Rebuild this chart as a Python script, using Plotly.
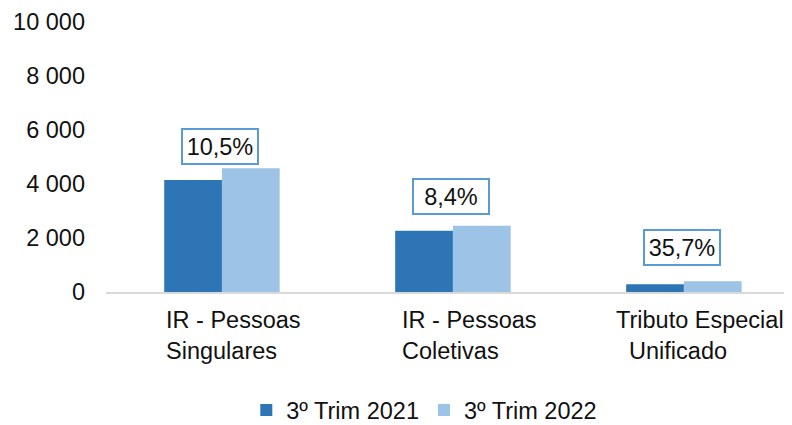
import plotly.graph_objects as go

categories = ["IR - Pessoas Singulares", "IR - Pessoas Coletivas", "Tributo Especial Unificado"]
category_labels = ["IR - Pessoas<br>Singulares", "IR - Pessoas<br>Coletivas", "Tributo Especial<br>\u00a0\u00a0Unificado"]
series_names = ["3º Trim 2021", "3º Trim 2022"]
values_2021 = [4150, 2265, 290]
values_2022 = [4585, 2455, 394]
growth_labels = ["10,5%", "8,4%", "35,7%"]
tick_values = [0, 2000, 4000, 6000, 8000, 10000]
tick_labels = ["0", "2 000", "4 000", "6 000", "8 000", "10 000"]

FONT = "Liberation Sans, Arial, sans-serif"
FS = 23.5
DARK = "#2E75B6"
LIGHT = "#9DC3E6"
TXT = "#111111"

fig = go.Figure()
fig.add_trace(go.Bar(x=categories, y=values_2021, name=series_names[0], marker_color=DARK, marker_line_width=0))
fig.add_trace(go.Bar(x=categories, y=values_2022, name=series_names[1], marker_color=LIGHT, marker_line_width=0))

# growth label boxes (y positions in data units, layout only)
label_y = [5390, 3520, 1630]
for cat, txt, ly in zip(categories, growth_labels, label_y):
    fig.add_annotation(x=cat, y=ly, xref="x", yref="y", text=txt, showarrow=False,
                       yanchor="middle", xanchor="center", xshift=-2,
                       font=dict(family=FONT, size=FS, color=TXT),
                       bordercolor="#5B9BD5", borderwidth=2, borderpad=2, bgcolor="white",
                       width=70, height=29)

# category labels
x_shifts = [12, 17, 16]
for cat, lab, xs in zip(categories, category_labels, x_shifts):
    fig.add_annotation(x=cat, y=0, xref="x", yref="paper", text=lab, showarrow=False,
                       xanchor="center", yanchor="top", align="left", xshift=xs, yshift=-13,
                       font=dict(family=FONT, size=FS, color=TXT))

# page body has an 8px default margin, so the figure is sized 8px smaller
fig.update_layout(
    width=784, height=417,
    margin=dict(l=98, r=0, t=14, b=133, autoexpand=False),
    paper_bgcolor="white", plot_bgcolor="white",
    barmode="group", bargap=0.5, bargroupgap=0,
    font=dict(family=FONT, size=FS, color=TXT),
    showlegend=True,
    legend=dict(orientation="h", x=0.464, xanchor="center", y=-0.438, yanchor="middle",
                font=dict(family=FONT, size=FS, color=TXT), itemclick=False,
                tracegroupgap=0),
)
fig.update_xaxes(range=[-0.502, 2.468], showticklabels=False, showgrid=False, automargin=False,
                 showline=True, linecolor="#D9D9D9", linewidth=2, zeroline=False, ticks="")
fig.update_yaxes(range=[0, 10000], tickvals=tick_values, ticktext=tick_labels, automargin=False,
                 showgrid=False, zeroline=False, showline=False, ticks="",
                 ticklabelstandoff=20, tickfont=dict(family=FONT, size=FS, color=TXT))

fig.write_html("out.html")
